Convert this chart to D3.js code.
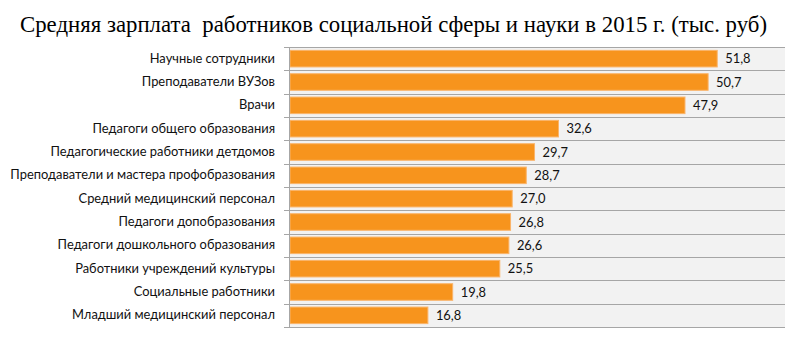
<!DOCTYPE html>
<html><head><meta charset="utf-8">
<script src="https://cdn.jsdelivr.net/npm/d3@7"></script>
<style>body{margin:0;background:#fff}svg{display:block}</style>
</head><body>
<svg id="c" width="800" height="342"></svg>
<script>
const titleText = "Средняя зарплата  работников социальной сферы и науки в 2015 г. (тыс. руб)";
const categories = ["Научные сотрудники","Преподаватели ВУЗов","Врачи","Педагоги общего образования","Педагогические работники детдомов","Преподаватели и мастера профобразования","Средний медицинский персонал","Педагоги допобразования","Педагоги дошкольного образования","Работники учреждений культуры","Социальные работники","Младший медицинский персонал"];
const values = [51.8,50.7,47.9,32.6,29.7,28.7,27.0,26.8,26.6,25.5,19.8,16.8];
const xDomain = [0, 60];

const svg = d3.select("#c");
const m = {left: 289, right: 15, top: 47, bottom: 15};
const W = 800, H = 342;
const x = d3.scaleLinear().domain(xDomain).range([m.left, W - m.right]);
const y = d3.scaleBand().domain(categories).range([m.top, H - m.bottom]).paddingInner(0.29).paddingOuter(0.145);
const step = y.step();

svg.append("text").attr("x", 20).attr("y", 32)
  .attr("font-family", "Liberation Serif, serif").attr("font-size", 22.8).attr("fill", "#000")
  .style("white-space", "pre").text(titleText);

svg.append("rect").attr("x", m.left).attr("y", m.top).attr("width", W - m.right - m.left).attr("height", H - m.bottom - m.top).attr("fill", "#f2f2f2");

// row grid lines
const bounds = d3.range(categories.length + 1).map(i => m.top + i * step);
svg.append("g").selectAll("line").data(bounds).join("line")
  .attr("x1", m.left - 5).attr("x2", W - m.right)
  .attr("y1", d => Math.round(d) + 0.5).attr("y2", d => Math.round(d) + 0.5)
  .attr("stroke", "#a6a6a6").attr("stroke-width", 1);

svg.append("g").selectAll("rect").data(values).join("rect")
  .attr("x", x(0) + 1).attr("y", (d, i) => y(categories[i]))
  .attr("width", d => x(d) - x(0) - 1).attr("height", y.bandwidth())
  .attr("fill", "#f7941d").attr("stroke", "#fab46a").attr("stroke-width", 1);

// axis
const axis = d3.axisLeft(y).tickSize(0).tickPadding(14);
const ag = svg.append("g").attr("transform", `translate(${m.left},0)`).call(axis);
ag.select(".domain").attr("stroke", "#a6a6a6");
ag.selectAll("text").attr("font-family", "Lato, sans-serif").attr("font-size", 12.9).attr("fill", "#111");

svg.append("g").selectAll("text").data(values).join("text")
  .attr("x", d => x(d) + 8).attr("y", (d, i) => y(categories[i]) + y.bandwidth() / 2)
  .attr("dy", "0.35em").attr("font-family", "Lato, sans-serif").attr("font-size", 12.9).attr("fill", "#111")
  .text(d => d3.format(".1f")(d).replace(".", ","));
</script>
</body></html>
